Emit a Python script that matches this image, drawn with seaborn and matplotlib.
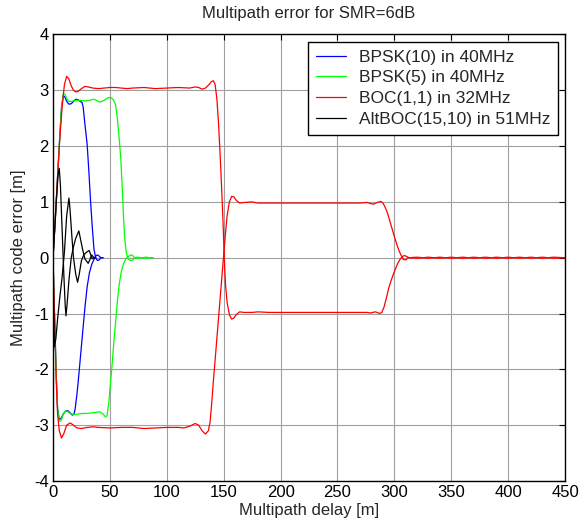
import numpy as np
import pandas as pd
import matplotlib
matplotlib.use("Agg")
import matplotlib.pyplot as plt
import seaborn as sns

# ---------------- data ----------------
signals = ["BPSK(10) in 40MHz", "BPSK(5) in 40MHz", "BOC(1,1) in 32MHz", "AltBOC(15,10) in 51MHz"]
colors = ["#0000ff", "#00ff00", "#ff0000", "#000000"]

# BPSK(10) in 40MHz
bpsk10_up_x = [0, 2, 4, 6, 7.5, 9, 10.5, 12, 14, 16, 18, 20, 22, 24, 25.5, 26.5, 28, 30, 31.5, 33, 34.5, 36, 37.5, 39, 40.5, 42, 44]
bpsk10_up_y = [0, 0.7, 1.45, 2.2, 2.7, 2.9, 2.88, 2.8, 2.75, 2.76, 2.8, 2.84, 2.83, 2.8, 2.78, 2.7, 2.4, 2.03, 1.55, 1.01, 0.55, 0.15, 0.0, -0.05, -0.04, 0.0, 0.0]
bpsk10_lo_x = [0, 1, 2, 3, 4, 5.5, 7, 9, 11, 13, 15, 17, 18.5, 19.5, 21, 22, 24, 26, 28, 30, 32, 34, 36, 37.5, 39, 40.5, 42, 44]
bpsk10_lo_y = [0, -0.8, -1.5, -2.2, -2.7, -2.9, -2.88, -2.8, -2.75, -2.74, -2.78, -2.82, -2.8, -2.7, -2.45, -2.25, -1.8, -1.35, -0.9, -0.52, -0.27, -0.12, -0.03, 0.03, 0.05, 0.03, 0.0, 0.0]

# BPSK(5) in 40MHz
bpsk5_up_x = [0, 2, 4, 6, 7.5, 9, 10.5, 12, 14, 16, 20, 24, 28, 32, 36, 38, 41, 44, 47, 49, 51, 53, 55, 56.5, 58, 59.5, 61, 62, 63, 64.5, 66, 68, 70, 71.5, 74, 78, 82, 85, 88]
bpsk5_up_y = [0, 0.7, 1.45, 2.2, 2.7, 2.93, 2.93, 2.85, 2.8, 2.8, 2.82, 2.82, 2.81, 2.82, 2.84, 2.82, 2.79, 2.81, 2.85, 2.87, 2.87, 2.83, 2.74, 2.5, 2.17, 1.8, 1.2, 0.7, 0.35, 0.08, -0.02, -0.05, -0.04, 0.0, 0.01, 0.0, 0.01, 0.0, 0.0]
bpsk5_lo_x = [0, 1, 2, 3, 4, 5.5, 7, 9, 11, 13, 16, 19, 22, 26, 30, 34, 38, 41, 44, 46, 47.5, 49, 50.5, 52, 53.5, 55, 56.5, 58, 60, 62, 64, 66, 68, 70, 71.5, 74, 78, 82, 85, 88]
bpsk5_lo_y = [0, -0.8, -1.5, -2.2, -2.7, -2.93, -2.92, -2.8, -2.74, -2.76, -2.8, -2.81, -2.8, -2.79, -2.79, -2.78, -2.77, -2.76, -2.8, -2.85, -2.83, -2.6, -2.25, -1.9, -1.5, -1.15, -0.8, -0.5, -0.25, -0.1, -0.02, 0.02, 0.05, 0.04, 0.0, -0.01, 0.0, -0.01, 0.0, 0.0]

# BOC(1,1) in 32MHz
boc_up_x = [0, 2, 4, 6, 8, 10, 12, 14, 16, 18, 20, 22, 25, 28, 31, 35, 40, 45, 50, 55, 60, 65, 70, 80, 90, 100, 110, 120, 125, 128, 131, 134, 137, 139.5, 141, 142.5, 144, 145.5, 147, 148.3, 149.5, 150.5, 151.5, 153, 155, 157, 159, 161, 164, 168, 175, 180, 190, 200, 210, 220, 230, 240, 250, 260, 270, 276, 279, 283, 285, 287, 289, 291, 293, 295, 297, 299, 301, 303, 305, 307, 309, 311, 313, 320, 330, 340, 350, 360, 370, 380, 390, 400, 410, 420, 430, 440, 450]
boc_up_y = [0, 0.7, 1.45, 2.15, 2.7, 3.1, 3.25, 3.2, 3.08, 3.0, 2.97, 2.98, 3.03, 3.07, 3.06, 3.04, 3.03, 3.04, 3.05, 3.05, 3.04, 3.03, 3.04, 3.05, 3.03, 3.04, 3.05, 3.04, 3.06, 3.05, 3.02, 3.04, 3.1, 3.16, 3.17, 3.1, 2.85, 2.4, 1.8, 1.2, 0.6, 0.0, -0.45, -0.8, -1.02, -1.1, -1.08, -1.02, -0.97, -0.98, -0.98, -0.97, -0.98, -0.98, -0.98, -0.98, -0.98, -0.98, -0.98, -0.98, -0.98, -0.98, -0.99, -0.97, -0.98, -1.0, -0.98, -0.88, -0.72, -0.55, -0.42, -0.3, -0.2, -0.1, -0.03, 0.02, 0.04, 0.02, 0.0, 0.01, -0.01, 0.01, -0.01, 0.01, -0.01, 0.01, -0.01, 0.01, -0.01, 0.01, -0.01, 0.01, 0.0]
boc_lo_x = [0, 1, 2, 3, 4, 5.5, 7.5, 9.5, 12, 15, 18, 21, 25, 30, 35, 40, 50, 60, 70, 80, 90, 100, 110, 115, 120, 125, 128, 131, 134, 136.5, 138, 139.5, 141, 143, 145, 147, 149, 151, 153, 155, 157, 159, 161, 164, 168, 175, 180, 190, 200, 210, 220, 230, 240, 250, 260, 270, 276, 279, 282, 285, 288, 290, 292, 294, 296, 298, 300, 302, 304, 306, 308, 310, 312, 320, 330, 340, 350, 360, 370, 380, 390, 400, 410, 420, 430, 440, 450]
boc_lo_y = [0, -0.8, -1.6, -2.3, -2.8, -3.1, -3.23, -3.15, -3.0, -2.96, -3.0, -3.05, -3.06, -3.04, -3.03, -3.04, -3.05, -3.04, -3.04, -3.06, -3.05, -3.04, -3.04, -3.05, -3.02, -2.97, -3.0, -3.1, -3.16, -3.1, -2.95, -2.6, -2.2, -1.7, -1.2, -0.7, -0.2, 0.3, 0.75, 1.0, 1.1, 1.09, 1.03, 0.98, 0.99, 1.0, 0.98, 0.98, 0.98, 0.98, 0.98, 0.98, 0.98, 0.98, 0.98, 0.98, 0.99, 0.97, 0.96, 0.99, 1.01, 0.98, 0.9, 0.8, 0.66, 0.52, 0.38, 0.25, 0.13, 0.04, -0.03, -0.04, 0.0, -0.01, 0.01, -0.01, 0.01, -0.01, 0.01, -0.01, 0.01, -0.01, 0.01, -0.01, 0.01, -0.01, 0.0]

# AltBOC(15,10) in 51MHz
altboc_up_x = [0, 1.5, 3, 4.5, 5.5, 6.5, 8, 9.5, 10.7, 11.4, 12.3, 14, 16, 18, 20, 22.7, 24, 26, 28, 30.9, 32.5, 34, 36, 37.5]
altboc_up_y = [0, 0.5, 1.05, 1.5, 1.6, 1.3, 0.5, -0.3, -0.85, -1.04, -0.85, -0.4, 0.0, 0.2, 0.35, 0.48, 0.35, 0.15, -0.02, -0.1, -0.03, 0.05, 0.0, 0.0]
altboc_lo_x = [0, 0.5, 1.2, 2.5, 4, 6, 8, 10, 12, 14, 15, 16.5, 18, 20, 21.6, 23, 25, 27, 29.5, 31.8, 33, 34.5, 36, 37.5]
altboc_lo_y = [0, -0.8, -1.6, -1.45, -1.1, -0.7, -0.35, 0.1, 0.75, 1.07, 0.85, 0.4, 0.0, -0.3, -0.44, -0.3, -0.05, 0.05, 0.1, 0.13, 0.06, -0.02, 0.0, 0.0]

x_ticks = [0, 50, 100, 150, 200, 250, 300, 350, 400, 450]
y_ticks = [-4, -3, -2, -1, 0, 1, 2, 3, 4]

# ---------------- build a long table ----------------
series = [
    (signals[0], bpsk10_up_x, bpsk10_up_y, bpsk10_lo_x, bpsk10_lo_y),
    (signals[1], bpsk5_up_x, bpsk5_up_y, bpsk5_lo_x, bpsk5_lo_y),
    (signals[2], boc_up_x, boc_up_y, boc_lo_x, boc_lo_y),
    (signals[3], altboc_up_x, altboc_up_y, altboc_lo_x, altboc_lo_y),
]
frames = []
for name, ux, uy, lx, ly in series:
    frames.append(pd.DataFrame({"delay": ux, "error": uy, "signal": name, "branch": name + " up"}))
    frames.append(pd.DataFrame({"delay": lx, "error": ly, "signal": name, "branch": name + " lo"}))
df = pd.concat(frames, ignore_index=True)

# ---------------- style ----------------
sns.set_theme(style="white")
plt.rcParams["font.family"] = ["Liberation Sans", "DejaVu Sans"]
plt.rcParams["axes.unicode_minus"] = False

fig = plt.figure(figsize=(5.82, 5.32), dpi=100)
ax = fig.add_axes([0.0911, 0.0959, 0.8797, 0.8393])

sns.lineplot(data=df, x="delay", y="error", hue="signal", units="branch",
             estimator=None, sort=False, hue_order=signals,
             palette=dict(zip(signals, colors)), linewidth=0.9, ax=ax)

ax.set_xlim(0, 450)
ax.set_ylim(-4, 4)
ax.set_xticks(x_ticks)
ax.set_yticks(y_ticks)
ax.grid(True, color="#a0a0a0", linewidth=0.8, linestyle="-")
ax.set_axisbelow(True)
for s in ax.spines.values():
    s.set_color("black")
    s.set_linewidth(1.0)
ax.tick_params(direction="in", length=4, width=0.8, top=True, right=True,
               labelsize=12, colors="black", pad=3)

ax.set_title("Multipath error for SMR=6dB", fontsize=12, pad=12)
ax.set_xlabel("Multipath delay [m]", fontsize=12, labelpad=2)
ax.set_ylabel("Multipath code error [m]", fontsize=12, labelpad=6)

handles, labels = ax.get_legend_handles_labels()
leg = ax.legend(handles, labels, loc="upper right", bbox_to_anchor=(0.986, 0.984),
                fontsize=12.5, frameon=True, fancybox=False, edgecolor="black",
                framealpha=1, borderpad=0.45, labelspacing=0.33,
                handlelength=1.75, handletextpad=0.7, borderaxespad=0)
leg.get_frame().set_linewidth(1.0)

fig.savefig("out.png", dpi=100)
